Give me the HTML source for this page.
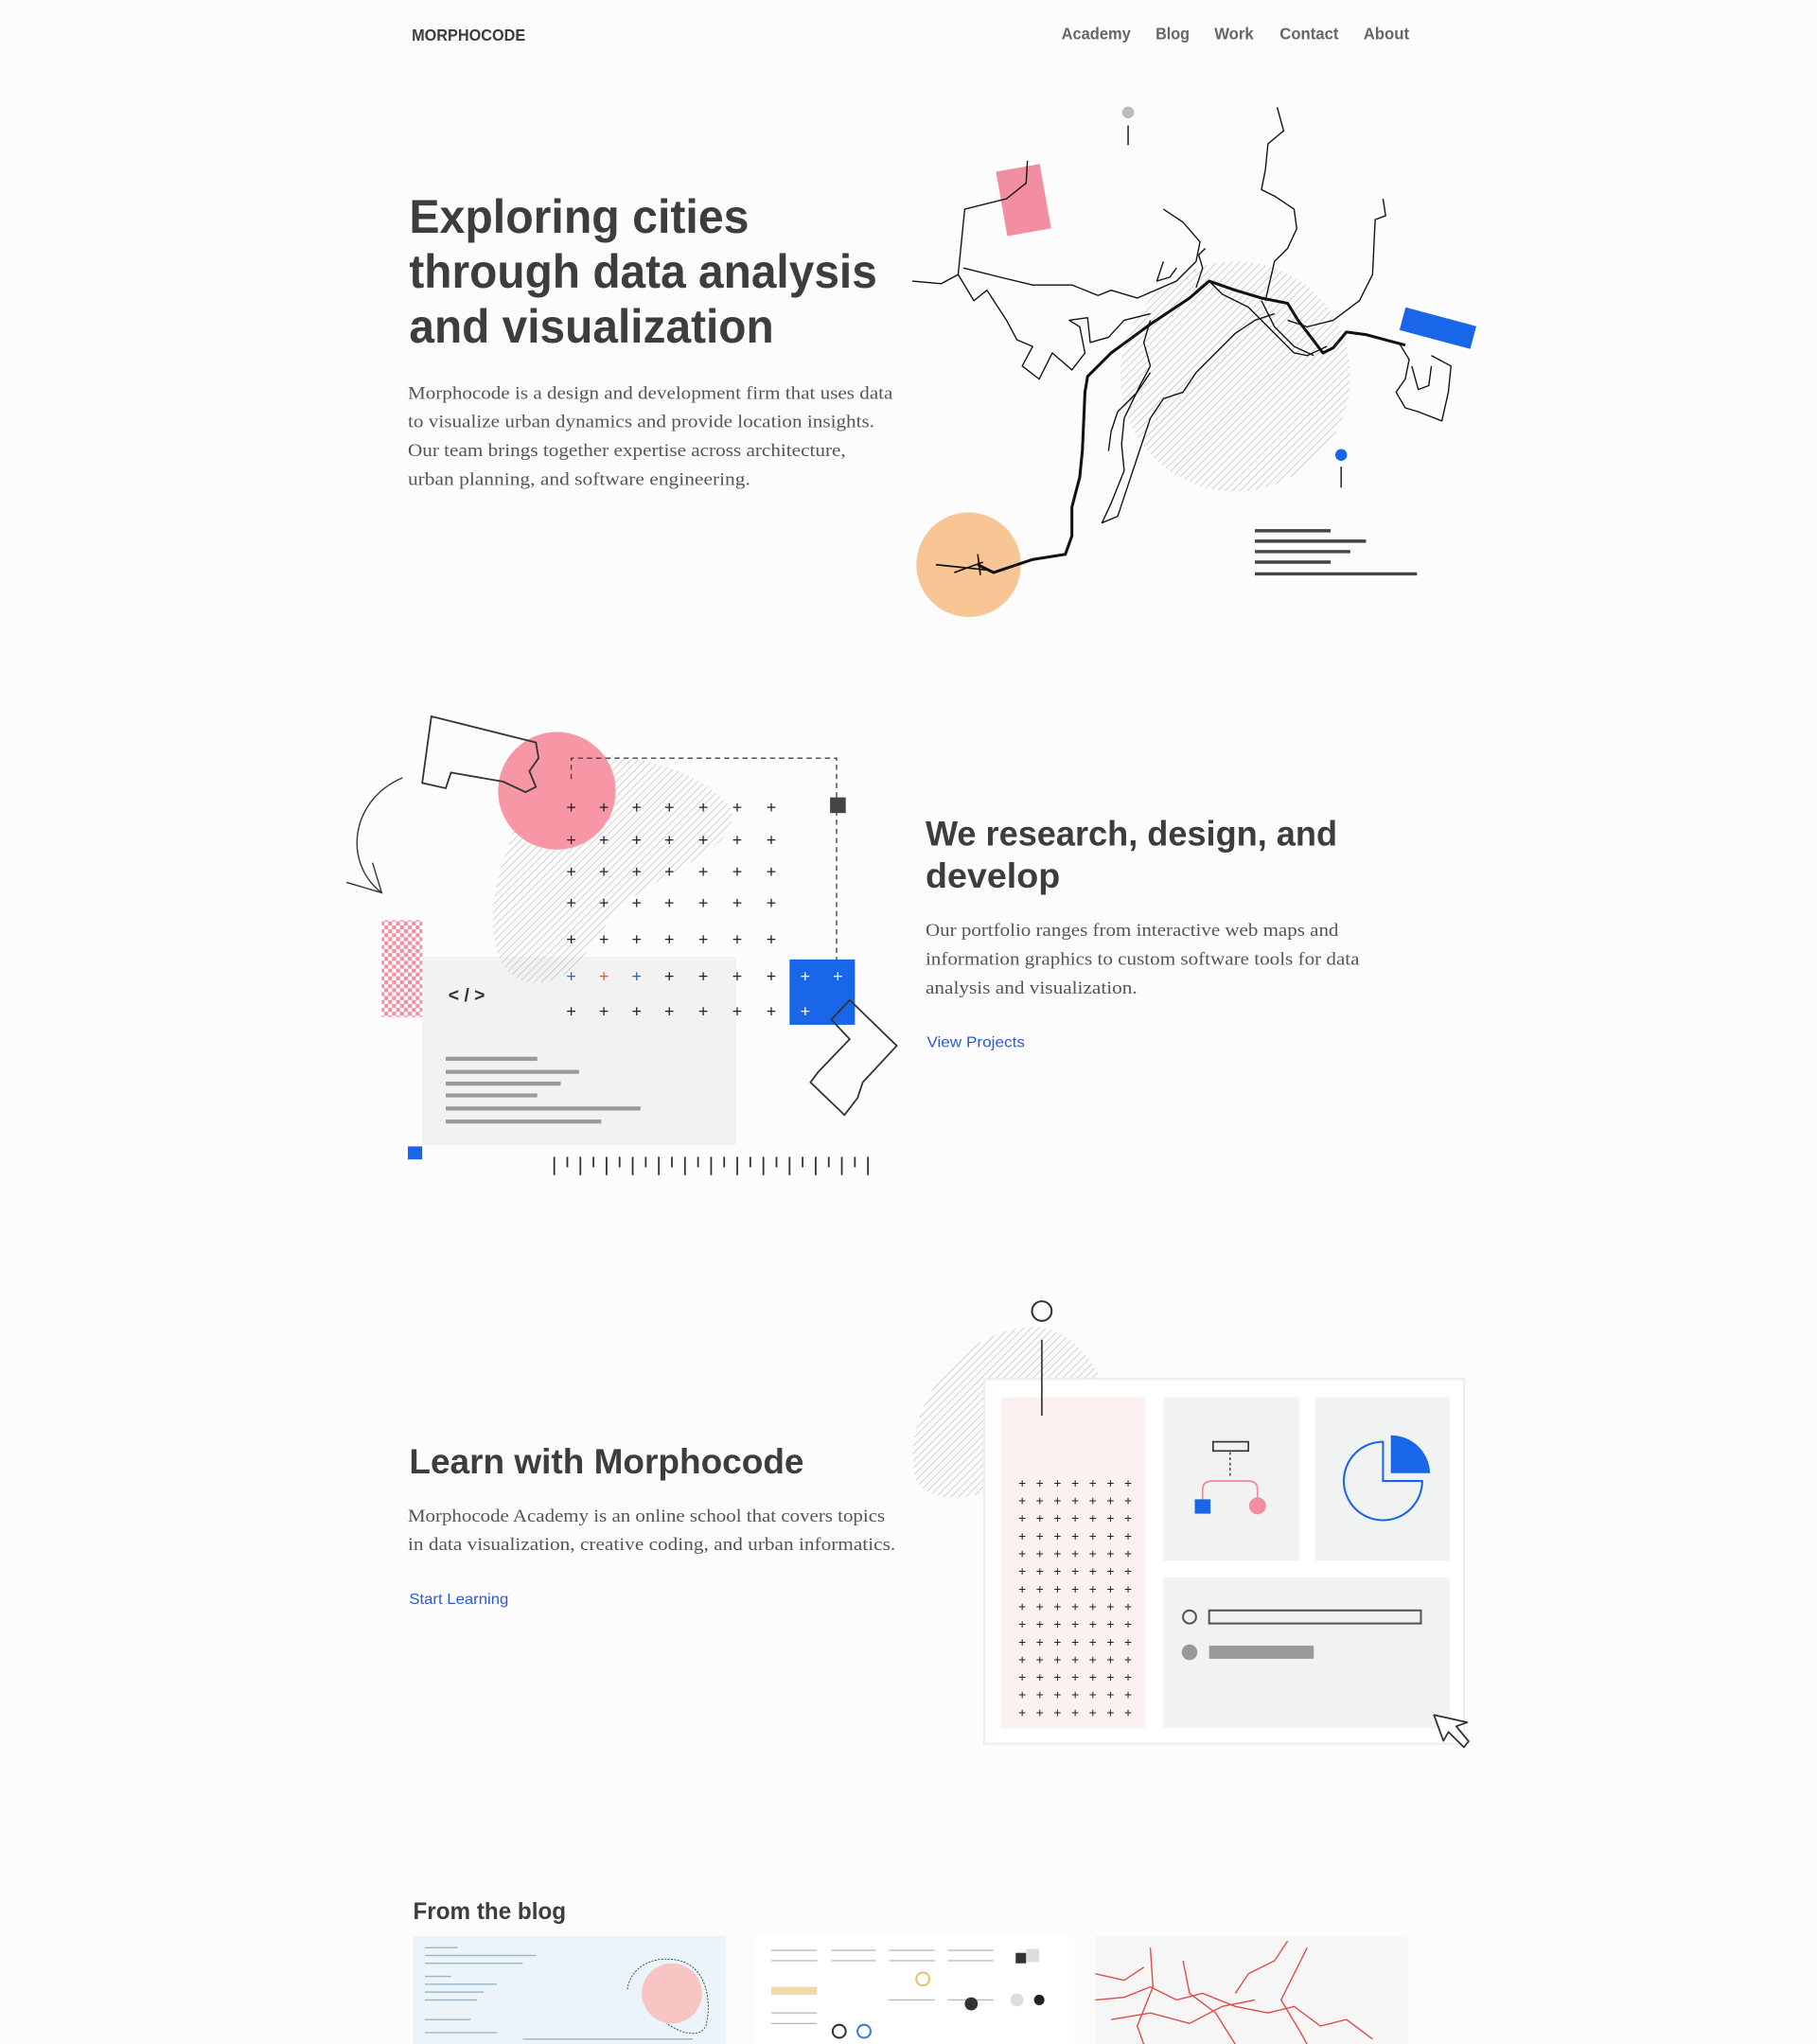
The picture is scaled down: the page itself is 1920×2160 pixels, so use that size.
<!DOCTYPE html>
<html><head><meta charset="utf-8"><style>
html,body{margin:0;padding:0;background:#fcfcfc;}
svg{display:block;}
text{font-family:"Liberation Sans",sans-serif;}
.h{fill:#3d3d3d;font-weight:bold;}
.p{fill:#555;font-family:"Liberation Serif",serif;font-size:14px;}
.n{fill:#666;font-size:12.5px;font-weight:bold;}
.l{fill:#2a5bd7;font-size:11.5px;}
</style></head><body>
<svg width="1920" height="2160" viewBox="0 0 1390 1563.7" xmlns="http://www.w3.org/2000/svg">
<defs>
<pattern id="hatch" patternUnits="userSpaceOnUse" width="4" height="4" patternTransform="rotate(45)">
<line x1="0" y1="0" x2="0" y2="4" stroke="#b8b8b8" stroke-width="0.9"/></pattern>
<pattern id="chk" patternUnits="userSpaceOnUse" width="6" height="6">
<rect width="6" height="6" fill="#fff"/><rect width="3" height="3" fill="#f28ea0"/><rect x="3" y="3" width="3" height="3" fill="#f28ea0"/></pattern>
</defs>
<rect width="1390" height="1564" fill="#fcfcfc"/>

<text x="315" y="31" class="h" font-size="13" textLength="87" lengthAdjust="spacingAndGlyphs">MORPHOCODE</text>
<text x="812" y="30" class="n" textLength="53" lengthAdjust="spacingAndGlyphs">Academy</text>
<text x="884" y="30" class="n" textLength="26" lengthAdjust="spacingAndGlyphs">Blog</text>
<text x="929" y="30" class="n" textLength="30" lengthAdjust="spacingAndGlyphs">Work</text>
<text x="979" y="30" class="n" textLength="45" lengthAdjust="spacingAndGlyphs">Contact</text>
<text x="1043" y="30" class="n" textLength="35" lengthAdjust="spacingAndGlyphs">About</text>

<text x="313" y="178" class="h" font-size="36" textLength="260" lengthAdjust="spacingAndGlyphs">Exploring cities</text>
<text x="313" y="220" class="h" font-size="36" textLength="358" lengthAdjust="spacingAndGlyphs">through data analysis</text>
<text x="313" y="262" class="h" font-size="36" textLength="279" lengthAdjust="spacingAndGlyphs">and visualization</text>
<text x="312" y="305" class="p" textLength="371" lengthAdjust="spacingAndGlyphs">Morphocode is a design and development firm that uses data</text>
<text x="312" y="327" class="p" textLength="357" lengthAdjust="spacingAndGlyphs">to visualize urban dynamics and provide location insights.</text>
<text x="312" y="349" class="p" textLength="335" lengthAdjust="spacingAndGlyphs">Our team brings together expertise across architecture,</text>
<text x="312" y="371" class="p" textLength="262" lengthAdjust="spacingAndGlyphs">urban planning, and software engineering.</text>

<circle cx="945" cy="288" r="88" fill="url(#hatch)"/>
<circle cx="741" cy="432" r="40" fill="#f7c694"/>
<rect x="766" y="128" width="34" height="50" fill="#f28ea0" transform="rotate(-10 783 153)"/>
<rect x="1072" y="242" width="56" height="18" fill="#1a66e8" transform="rotate(15 1100 251)"/>
<circle cx="863" cy="86" r="4.5" fill="#bbb"/><line x1="863" y1="96" x2="863" y2="111" stroke="#333" stroke-width="1.2"/>
<circle cx="1026" cy="348" r="4.5" fill="#1a66e8"/><line x1="1026" y1="357" x2="1026" y2="373" stroke="#333" stroke-width="1.2"/>
<g stroke="#444" stroke-width="2.5">
<line x1="960" y1="406" x2="1018" y2="406"/><line x1="960" y1="414" x2="1045" y2="414"/>
<line x1="960" y1="422" x2="1033" y2="422"/><line x1="960" y1="430" x2="1018" y2="430"/>
<line x1="960" y1="439" x2="1084" y2="439"/></g>
<g fill="none" stroke="#111" stroke-width="1" stroke-linejoin="round">
<polyline points="698,215 720,217 733,210 738,160 770,152 785,140 786,123"/>
<polyline points="733,210 745,230 755,222 770,245 778,260 790,265 782,280 795,290 805,270 820,283 830,270 826,250 818,245 832,243 834,262 848,258 860,245 880,240"/>
<polyline points="737,205 765,212 790,218 820,218 840,226 850,222 870,228 900,215 915,200 918,185 905,170 890,160"/>
<polyline points="977,82 982,100 970,110 968,130 965,145 975,150 990,160 992,175 985,190 975,200 968,230"/>
<polyline points="1058,152 1060,165 1052,168 1050,210 1040,230 1020,245 1000,250 985,245"/>
<polyline points="1070,262 1078,275 1075,290 1068,300 1075,312 1085,315 1103,322 1108,300 1110,280 1095,272"/>
<polyline points="1080,280 1085,298 1093,295 1095,280"/>
<polyline points="880,245 875,262 880,280 872,295 860,320 858,340 860,360 850,385 843,400 855,395 860,380 870,350 880,320 890,305 905,300 915,285 930,270 945,255 960,245 975,240"/>
<polyline points="880,285 870,300 855,315 850,330 848,345"/>
<polyline points="925,215 935,225 955,235 975,255 990,270 1000,272 1015,265"/>
<polyline points="915,220 920,205 917,195 922,190"/>
<polyline points="965,230 975,250 990,265 1005,272"/>
<polyline points="890,200 885,215 895,212 900,205"/>
</g>
<polyline fill="none" stroke="#111" stroke-width="2.2" stroke-linejoin="round" points="748,432 760,438 790,428 815,424 820,410 820,388 826,365 828,345 830,300 832,288 850,270 880,248 910,228 925,215 945,222 965,228 985,232 993,245 1003,258 1012,270 1020,266 1030,254 1045,256 1060,260 1075,264"/>
<g stroke="#111" stroke-width="1.2"><line x1="716" y1="432" x2="755" y2="436"/><line x1="730" y1="438" x2="752" y2="430"/><line x1="748" y1="424" x2="750" y2="440"/></g>

<text x="708" y="647" class="h" font-size="27" textLength="315" lengthAdjust="spacingAndGlyphs">We research, design, and</text>
<text x="708" y="679" class="h" font-size="27" textLength="103" lengthAdjust="spacingAndGlyphs">develop</text>
<text x="708" y="716" class="p" textLength="316" lengthAdjust="spacingAndGlyphs">Our portfolio ranges from interactive web maps and</text>
<text x="708" y="738" class="p" textLength="332" lengthAdjust="spacingAndGlyphs">information graphics to custom software tools for data</text>
<text x="708" y="760" class="p" textLength="162" lengthAdjust="spacingAndGlyphs">analysis and visualization.</text>
<text x="709" y="801" class="l" textLength="75" lengthAdjust="spacingAndGlyphs">View Projects</text>

<rect x="323" y="732" width="240" height="144" fill="#f1f2f1"/>
<path d="M420,580 C480,570 540,590 560,620 C565,650 510,665 480,690 C450,715 445,755 405,752 C370,745 372,690 388,650 C398,620 400,590 420,580Z" fill="url(#hatch)"/>
<circle cx="426" cy="605" r="45" fill="#f797a6"/>
<polyline points="437,596 437,580 640,580 640,735" fill="none" stroke="#444" stroke-width="1" stroke-dasharray="4,3"/>
<rect x="635" y="610" width="12" height="12" fill="#444"/>
<rect x="604" y="734" width="50" height="50" fill="#1a66e8"/>
<rect x="292" y="704" width="31" height="74" fill="url(#chk)"/>
<rect x="312" y="877" width="11" height="10" fill="#1a66e8"/>
<text x="343" y="766" font-size="14" font-weight="bold" fill="#333">&lt; / &gt;</text>
<g stroke="#999" stroke-width="3">
<line x1="341" y1="810" x2="411" y2="810"/><line x1="341" y1="820" x2="443" y2="820"/>
<line x1="341" y1="829" x2="429" y2="829"/><line x1="341" y1="838" x2="411" y2="838"/>
<line x1="341" y1="848" x2="490" y2="848"/><line x1="341" y1="858" x2="460" y2="858"/></g>
<g font-size="13" text-anchor="middle" fill="#222">
<g id="crow">
<text x="437" y="622">+</text><text x="462" y="622">+</text><text x="487" y="622">+</text><text x="512" y="622">+</text><text x="538" y="622">+</text><text x="564" y="622">+</text><text x="590" y="622">+</text></g>
<use href="#crow" y="25"/><use href="#crow" y="49"/><use href="#crow" y="73"/><use href="#crow" y="101"/><use href="#crow" y="156"/>
<text x="437" y="751" fill="#3360c0">+</text><text x="462" y="751" fill="#e05a3a">+</text><text x="487" y="751" fill="#3360c0">+</text><text x="512" y="751">+</text><text x="538" y="751">+</text><text x="564" y="751">+</text><text x="590" y="751">+</text>
<text x="616" y="751" fill="#fff">+</text><text x="641" y="751" fill="#fff">+</text><text x="616" y="778" fill="#fff">+</text>
</g>
<polygon points="330,548 410,568 412,580 405,590 410,602 402,606 385,598 345,591 341,603 323,599" fill="none" stroke="#333" stroke-width="1.3"/>
<polygon points="650,765 686,800 660,828 656,840 646,853 620,828 626,820 650,795 636,780" fill="none" stroke="#333" stroke-width="1.3"/>
<path d="M308,595 C268,612 262,660 292,683" fill="none" stroke="#333" stroke-width="1"/>
<polyline points="265,675 292,683 285,660" fill="none" stroke="#333" stroke-width="1"/>
<g stroke="#333" stroke-width="1.3">
<line x1="424" y1="885" x2="424" y2="899"/><line x1="434" y1="885" x2="434" y2="893"/><line x1="444" y1="885" x2="444" y2="899"/><line x1="454" y1="885" x2="454" y2="893"/><line x1="464" y1="885" x2="464" y2="899"/><line x1="474" y1="885" x2="474" y2="893"/><line x1="484" y1="885" x2="484" y2="899"/><line x1="494" y1="885" x2="494" y2="893"/><line x1="504" y1="885" x2="504" y2="899"/><line x1="514" y1="885" x2="514" y2="893"/><line x1="524" y1="885" x2="524" y2="899"/><line x1="534" y1="885" x2="534" y2="893"/><line x1="544" y1="885" x2="544" y2="899"/><line x1="554" y1="885" x2="554" y2="893"/><line x1="564" y1="885" x2="564" y2="899"/><line x1="574" y1="885" x2="574" y2="893"/><line x1="584" y1="885" x2="584" y2="899"/><line x1="594" y1="885" x2="594" y2="893"/><line x1="604" y1="885" x2="604" y2="899"/><line x1="614" y1="885" x2="614" y2="893"/><line x1="624" y1="885" x2="624" y2="899"/><line x1="634" y1="885" x2="634" y2="893"/><line x1="644" y1="885" x2="644" y2="899"/><line x1="654" y1="885" x2="654" y2="893"/><line x1="664" y1="885" x2="664" y2="899"/></g>

<text x="313" y="1127" class="h" font-size="27" textLength="302" lengthAdjust="spacingAndGlyphs">Learn with Morphocode</text>
<text x="312" y="1164" class="p" textLength="365" lengthAdjust="spacingAndGlyphs">Morphocode Academy is an online school that covers topics</text>
<text x="312" y="1186" class="p" textLength="373" lengthAdjust="spacingAndGlyphs">in data visualization, creative coding, and urban informatics.</text>
<text x="313" y="1227" class="l" textLength="76" lengthAdjust="spacingAndGlyphs">Start Learning</text>

<path d="M700,1130 C690,1080 730,1018 790,1015 C820,1015 838,1045 842,1056 L753,1056 L753,1142 C730,1150 705,1145 700,1130Z" fill="url(#hatch)"/>
<rect x="753" y="1055" width="367" height="279" fill="#fff" stroke="#f4eaea" stroke-width="1.5"/>
<rect x="766" y="1069" width="110" height="253" fill="#fdf0f0"/>
<rect x="890" y="1069" width="104" height="125" fill="#f1f2f2"/>
<rect x="1006" y="1069" width="103" height="125" fill="#f1f2f2"/>
<rect x="890" y="1207" width="219" height="115" fill="#f1f2f2"/>
<circle cx="797" cy="1003" r="7.5" fill="none" stroke="#333" stroke-width="1.5"/>
<line x1="797" y1="1025" x2="797" y2="1083" stroke="#333" stroke-width="1.2"/>
<g font-size="10" text-anchor="middle" fill="#222">
<g id="drow"><text x="782" y="1138">+</text><text x="795.5" y="1138">+</text><text x="809" y="1138">+</text><text x="822.5" y="1138">+</text><text x="836" y="1138">+</text><text x="849.5" y="1138">+</text><text x="863" y="1138">+</text></g>
<use href="#drow" y="13.5"/><use href="#drow" y="27"/><use href="#drow" y="40.5"/><use href="#drow" y="54"/><use href="#drow" y="67.5"/><use href="#drow" y="81"/><use href="#drow" y="94.5"/><use href="#drow" y="108"/><use href="#drow" y="121.5"/><use href="#drow" y="135"/><use href="#drow" y="148.5"/><use href="#drow" y="162"/><use href="#drow" y="175.5"/>
</g>
<rect x="928" y="1103" width="27" height="7" fill="none" stroke="#333" stroke-width="1.2"/>
<line x1="941" y1="1111" x2="941" y2="1131" stroke="#333" stroke-width="1" stroke-dasharray="2,2"/>
<path d="M920,1147 L920,1140 Q920,1133 927,1133 L955,1133 Q962,1133 962,1140 L962,1147" fill="none" stroke="#f28ea0" stroke-width="1.3"/>
<rect x="914" y="1147" width="12" height="11" fill="#1a66e8"/>
<circle cx="962" cy="1152" r="6.5" fill="#f28ea0"/>
<path d="M1058,1133 L1058,1103 A30,30 0 1 0 1088,1133 Z" fill="none" stroke="#1a66e8" stroke-width="1.5"/>
<path d="M1064,1127 L1064,1098 A30,30 0 0 1 1094,1127 Z" fill="#1a66e8"/>
<circle cx="910" cy="1237" r="5" fill="none" stroke="#555" stroke-width="1.5"/>
<rect x="925" y="1232" width="162" height="10" fill="none" stroke="#555" stroke-width="1.5"/>
<circle cx="910" cy="1264" r="6" fill="#999"/>
<rect x="925" y="1259" width="80" height="10" fill="#999"/>
<path d="M1097,1312 L1097,1333 L1103,1328 L1110,1343 L1115,1340 L1110,1326 L1119,1326 Z" fill="#fff" stroke="#333" stroke-width="1.3" stroke-linejoin="round" transform="rotate(-20 1097 1312)"/>

<text x="316" y="1468" class="h" font-size="18" textLength="117" lengthAdjust="spacingAndGlyphs">From the blog</text>
<rect x="316" y="1481" width="239" height="83" fill="#eaf4f9"/>
<circle cx="514" cy="1525" r="23" fill="#f9c4c4"/>
<path d="M480,1522 C482,1505 500,1495 520,1500 C540,1505 545,1530 540,1550 C535,1560 520,1555 510,1548" fill="none" stroke="#333" stroke-width="0.6" stroke-dasharray="1.5,1"/>
<g stroke="#9bb6c8" stroke-width="1">
<line x1="325" y1="1490" x2="350" y2="1490"/><line x1="325" y1="1496" x2="410" y2="1496"/><line x1="325" y1="1502" x2="400" y2="1502"/><line x1="325" y1="1512" x2="345" y2="1512"/><line x1="325" y1="1518" x2="380" y2="1518"/><line x1="325" y1="1524" x2="370" y2="1524"/><line x1="325" y1="1530" x2="365" y2="1530"/><line x1="325" y1="1545" x2="360" y2="1545"/><line x1="325" y1="1555" x2="380" y2="1555"/><line x1="400" y1="1560" x2="530" y2="1560"/></g>
<rect x="578" y="1481" width="239" height="83" fill="#fff"/>
<g stroke="#bbb" stroke-width="1">
<line x1="590" y1="1492" x2="625" y2="1492"/><line x1="590" y1="1500" x2="625" y2="1500"/><line x1="636" y1="1492" x2="670" y2="1492"/><line x1="636" y1="1500" x2="670" y2="1500"/><line x1="680" y1="1492" x2="715" y2="1492"/><line x1="680" y1="1500" x2="715" y2="1500"/><line x1="725" y1="1492" x2="760" y2="1492"/><line x1="725" y1="1500" x2="760" y2="1500"/><line x1="590" y1="1540" x2="625" y2="1540"/><line x1="590" y1="1548" x2="625" y2="1548"/><line x1="680" y1="1530" x2="715" y2="1530"/><line x1="725" y1="1530" x2="760" y2="1530"/></g>
<rect x="590" y="1520" width="35" height="6" fill="#f0d9a8"/>
<rect x="777" y="1494" width="8" height="8" fill="#333"/><rect x="785" y="1491" width="10" height="10" fill="#ddd"/>
<circle cx="706" cy="1514" r="5" fill="none" stroke="#e6c46a" stroke-width="1.5"/>
<circle cx="642" cy="1554" r="5" fill="none" stroke="#333" stroke-width="1.5"/>
<circle cx="661" cy="1554" r="5" fill="none" stroke="#3a7bd5" stroke-width="1.5"/>
<circle cx="743" cy="1533" r="5" fill="#333"/><circle cx="778" cy="1530" r="5" fill="#ddd"/><circle cx="795" cy="1530" r="4" fill="#222"/>
<rect x="838" y="1481" width="239" height="83" fill="#f6f6f6"/>
<g fill="none" stroke="#e04a4a" stroke-width="1">
<polyline points="838,1530 860,1528 880,1520 900,1530 920,1525 945,1535 970,1540 990,1535 1010,1550 1030,1545 1050,1560"/>
<polyline points="880,1490 882,1520 870,1550 875,1564"/>
<polyline points="905,1500 910,1525 930,1540 945,1564"/>
<polyline points="945,1525 955,1510 975,1500 985,1485"/>
<polyline points="850,1545 880,1540 910,1548 935,1535 960,1530"/>
<polyline points="1000,1490 990,1510 980,1530 995,1555 1000,1564"/>
<polyline points="838,1510 860,1515 875,1505"/>
</g>
</svg>
</body></html>
